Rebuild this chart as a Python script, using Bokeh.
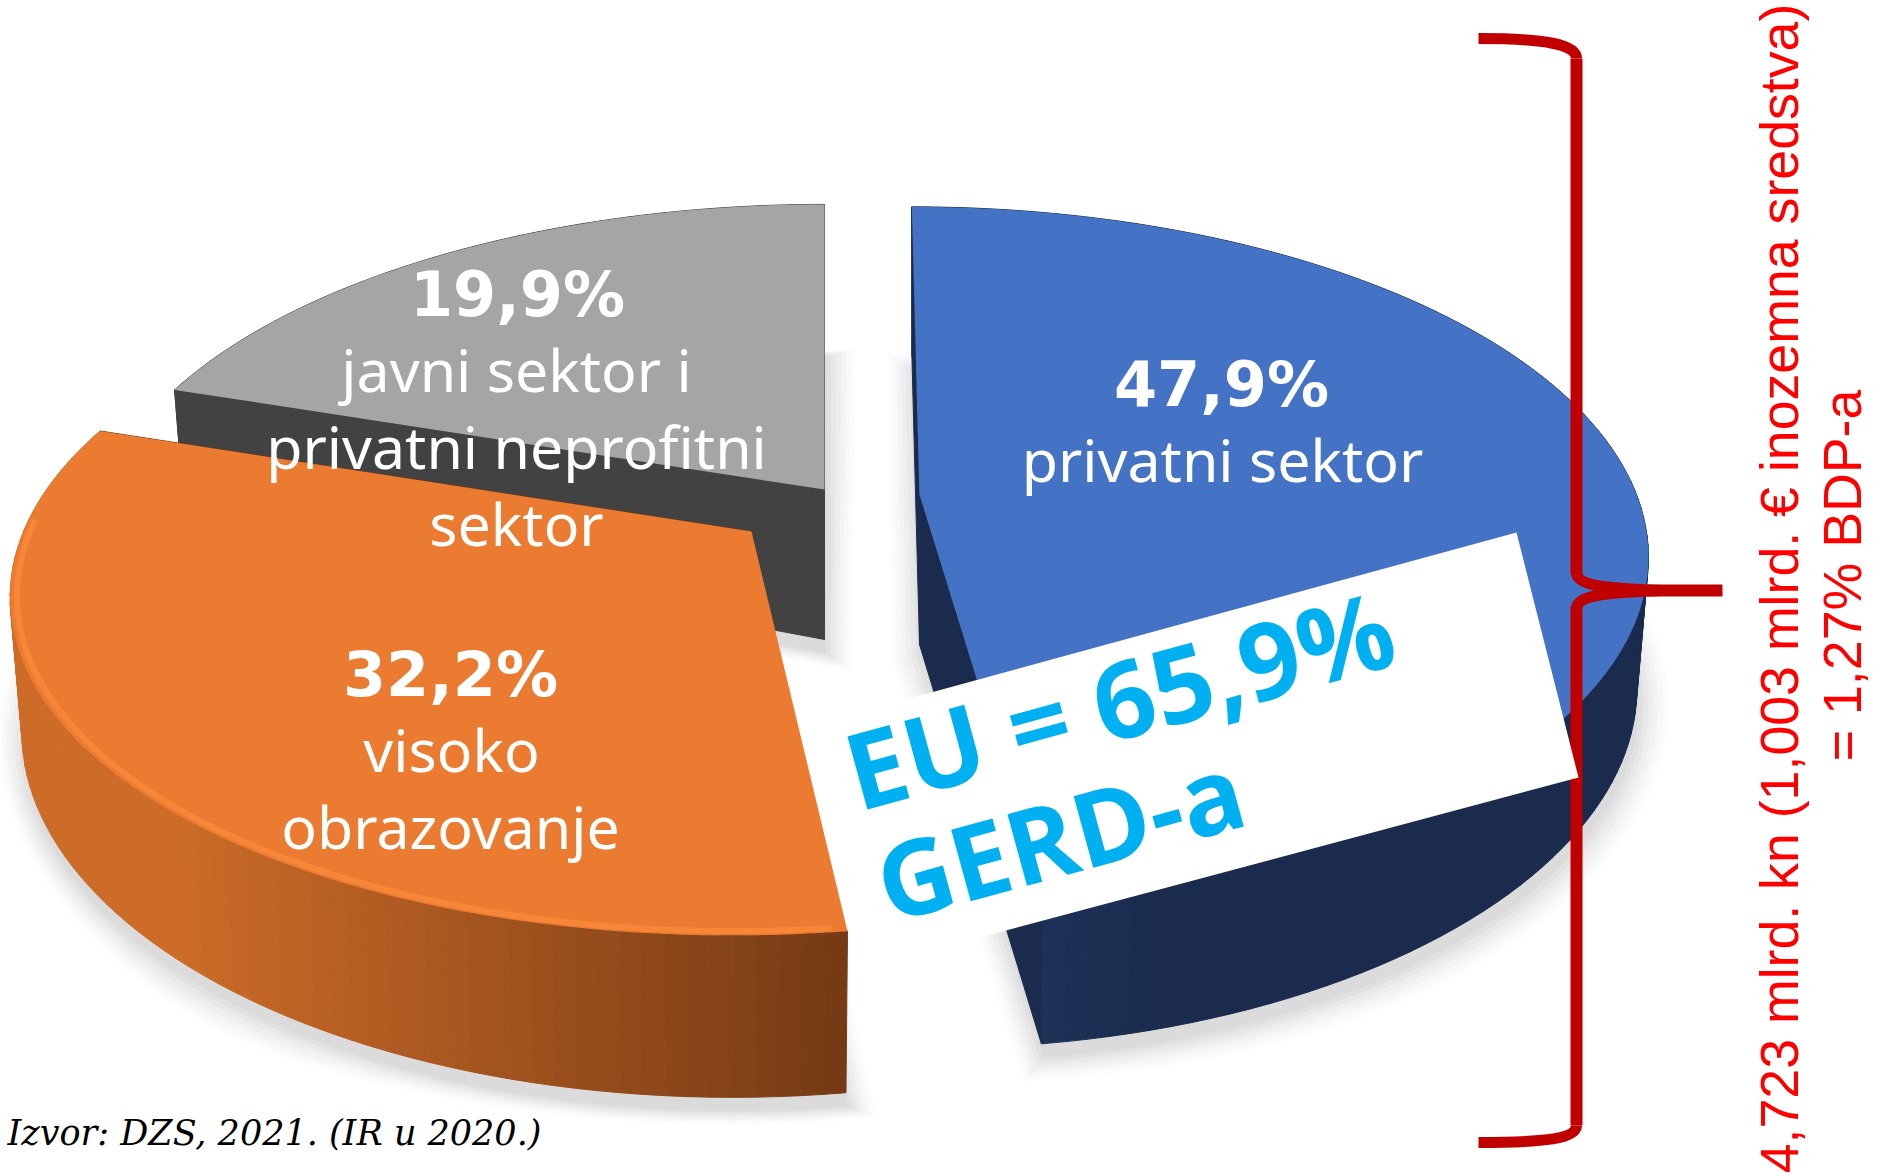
import math
from bokeh.plotting import figure
from bokeh.models import Range1d, ColumnDataSource
from bokeh.core.properties import value
from bokeh.embed import file_html
from bokeh.resources import INLINE

# ---- data ----
sectors = ["privatni sektor", "visoko obrazovanje", "javni sektor i privatni neprofitni sektor"]
shares = [47.9, 32.2, 19.9]
share_labels = ["47,9%", "32,2%", "19,9%"]
top_colors = ["#4472C4", "#EA7B30", "#A5A5A5"]
wall_near = ["#1A2B4D", "#763B15", "#424242"]
wall_far = ["#1F3259", "#CC6C28", "#424242"]
wall_inner = ["#1A2B4D", "#763B15", "#424242"]
total_label = "4,723 mlrd. kn (1,003 mlrd. € inozemna sredstva)"
gdp_label = "= 1,27% BDP-a"
eu_lines = ["EU = 65,9%", "GERD-a"]
source_label = "Izvor: DZS, 2021. (IR u 2020.)"

# ---- projection of each exploded slice: a circle seen in perspective ----
K = 0.168
GEOM = [
    dict(ax=919, ay=494, R=717, Ry=336, s=9.0, D=150, f=0.0),
    dict(ax=751, ay=531, R=728, Ry=336, s=-15.9, D=150, f=0.08),
    dict(ax=824, ay=489, R=721, Ry=333, s=0.0, D=150, f=0.08),
]

def pt(g, deg, r=1.0, h=0.0):
    t = math.radians(deg)
    u, v = r * math.sin(t), -r * math.cos(t)
    w = 1 - K * v
    shrink = 1 - 0.016 * h
    x = g["ax"] + (g["R"] * u + g["s"] * v) / w * shrink
    y = g["ay"] + g["Ry"] * v / w + g["D"] * (1 + g["f"] * v - 0.12 * u * u) * h
    return x, y

def arc(g, a0, a1, h=0.0, r=1.0, step=1.0):
    n = max(2, int(abs(a1 - a0) / step))
    return [pt(g, a0 + (a1 - a0) * i / n, r, h) for i in range(n + 1)]

def mix(c0, c1, f):
    a = [int(c0[i:i + 2], 16) for i in (1, 3, 5)]
    b = [int(c1[i:i + 2], 16) for i in (1, 3, 5)]
    return "#%02X%02X%02X" % tuple(round(p + (q - p) * f) for p, q in zip(a, b))

p = figure(width=1883, height=1173, x_range=Range1d(0, 1883), y_range=Range1d(1173, 0),
           output_backend="svg", toolbar_location=None, min_border=0,
           x_axis_type=None, y_axis_type=None, outline_line_color=None,
           background_fill_color="white", border_fill_color="white")
p.grid.visible = False

starts, acc = [], 0.0
for v in shares:
    starts.append((acc * 3.6, (acc + v) * 3.6))
    acc += v

# soft shadows
for grow, alpha in [(30, .018), (25, .022), (20, .026), (15, .03), (10, .034), (5, .04), (0, .045)]:
    for g, (a0, a1) in zip(GEOM, starts):
        outline = [pt(g, 0, 0, 1)] + arc(g, a0, a1, 1.0, step=3)
        mx = sum(q[0] for q in outline) / len(outline)
        my = sum(q[1] for q in outline) / len(outline)
        xs, ys = [], []
        for qx, qy in outline:
            dx, dy = qx - mx, qy - my
            d = math.hypot(dx, dy) or 1
            xs.append(qx + dx / d * grow + 2)
            ys.append(qy + dy / d * grow + 14)
        p.patch(xs, ys, fill_color="#555555", fill_alpha=alpha, line_color=None)

# slices, back to front
for idx in (2, 0, 1):
    g = GEOM[idx]
    a0, a1 = starts[idx]
    # side (cut) faces
    for edge in (a0, a1):
        if idx == 1 and edge == a0:
            continue
        q = [pt(g, 0, 0, 0), pt(g, edge, 1, 0), pt(g, edge, 1, 1), pt(g, 0, 0, 1)]
        p.patch([c[0] for c in q], [c[1] for c in q], fill_color=wall_inner[idx],
                line_color=wall_inner[idx], line_width=1)
    # outer wall as thin shaded strips
    xs, ys, cols = [], [], []
    n = int(abs(a1 - a0) / 1.5)
    xr = [pt(g, a0 + (a1 - a0) * i / n)[0] for i in range(n + 1)]
    lo, hi = min(xr), max(xr)
    for i in range(n):
        b0 = a0 + (a1 - a0) * i / n
        b1 = a0 + (a1 - a0) * (i + 1) / n
        q = [pt(g, b0, 1, 0), pt(g, b1, 1, 0), pt(g, b1, 1, 1), pt(g, b0, 1, 1)]
        xs.append([c[0] for c in q])
        ys.append([c[1] for c in q])
        if idx == 1:
            far = min(1.0, abs(q[0][0] - pt(g, a0)[0]) / (hi - lo) * 1.25)
        elif idx == 0:
            far = max(0.0, 1 - abs(q[0][0] - pt(g, a1)[0]) / 120)
        else:
            far = 0.0
        cols.append(mix(wall_near[idx], wall_far[idx], far))
    p.patches("xs", "ys", source=ColumnDataSource(dict(xs=xs, ys=ys, c=cols)),
              fill_color="c", line_color="c", line_width=1)
    # top face
    top = [pt(g, 0, 0, 0)] + arc(g, a0, a1)
    p.patch([c[0] for c in top], [c[1] for c in top], fill_color=top_colors[idx], line_color=None)
    # lit rim on the orange slice
    if idx == 1:
        rim = arc(g, a0 + 1, 272, 0.0, r=0.991)
        p.line([c[0] for c in rim], [c[1] for c in rim], line_color="#F8873A", line_width=6, line_alpha=.9)

# bracket
RED = "#C00000"
p.line([1576, 1576], [58, 574], line_color=RED, line_width=12)
p.line([1576, 1576], [606, 1125], line_color=RED, line_width=12)
p.line([1648, 1722], [590, 590], line_color=RED, line_width=12)
p.bezier(x0=[1478, 1478, 1576, 1576], y0=[38, 1142, 572, 608],
         x1=[1576, 1576, 1660, 1660], y1=[58, 1125, 590, 590],
         cx0=[1545, 1545, 1576, 1576], cy0=[38, 1142, 586, 594],
         cx1=[1576, 1576, 1610, 1610], cy1=[44, 1138, 588, 592],
         line_color=RED, line_width=11)

# white note box
p.patch([905, 1516, 1578, 972], [699, 532, 777, 939], fill_color="white", line_color=None)

def label(x, y, s, size, color="white", bold=False, angle=0.0, font="Noto Sans", italic=False, align="center"):
    style = "bold" if bold else ("italic" if italic else "normal")
    p.text([x], [y], text=[s], text_font=value(font), text_font_size=f"{size}px",
           text_color=color, text_align=align, text_baseline="middle",
           angle=angle, text_font_style=style)

label(7, 1132, source_label, 35, color="black", font="DejaVu Serif", italic=True, align="left")

SZ = 59
BF = "DejaVu Sans"
label(1221, 384, share_labels[0], 62, bold=True, font=BF)
label(1222, 458, sectors[0], SZ)
label(450, 674, share_labels[1], 62, bold=True, font=BF)
label(451, 748, "visoko", SZ)
label(450, 825, "obrazovanje", SZ)
label(517, 294, share_labels[2], 62, bold=True, font=BF)
label(516, 368, "javni sektor i", SZ)
label(516, 445, "privatni neprofitni", SZ)
label(516, 522, "sektor", SZ)

label(1778, 588, total_label, 53.7, color="#FF0000", angle=math.pi / 2, font="Liberation Sans")
label(1841, 575, gdp_label, 53.7, color="#FF0000", angle=math.pi / 2, font="Liberation Sans")

ang = math.radians(15.3)
label(847, 772, eu_lines[0], 106, color="#00B0F0", angle=ang, font="Open Sans", bold=True, align="left")
label(878, 884, eu_lines[1], 104, color="#00B0F0", angle=ang, font="Open Sans", bold=True, align="left")

open("out.html", "w").write(file_html(p, INLINE))
